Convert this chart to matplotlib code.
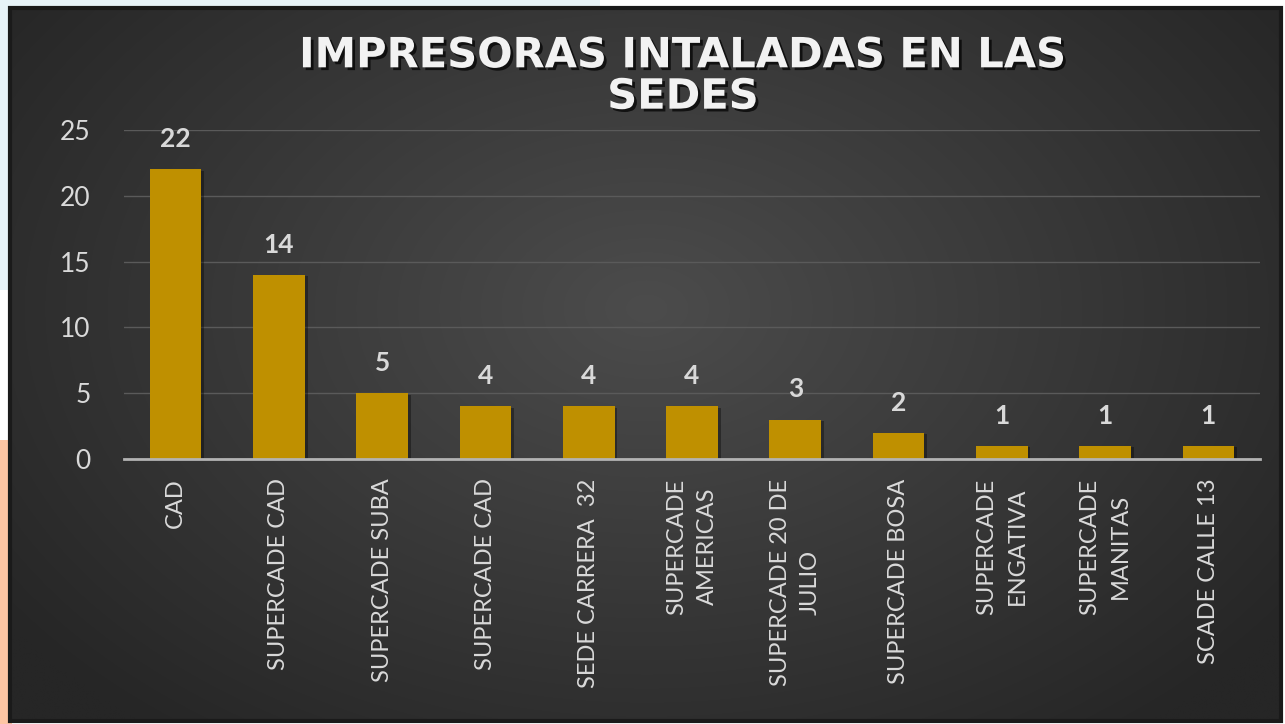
import numpy as np
import matplotlib
matplotlib.use("Agg")
import matplotlib.pyplot as plt
import matplotlib.patheffects as pe
from matplotlib.patches import Rectangle

categories = ["CAD", "SUPERCADE CAD", "SUPERCADE SUBA", "SUPERCADE CAD",
              "SEDE CARRERA  32", "SUPERCADE\nAMERICAS", "SUPERCADE 20 DE\nJULIO",
              "SUPERCADE BOSA", "SUPERCADE\nENGATIVA", "SUPERCADE\nMANITAS",
              "SCADE CALLE 13"]
values = [22, 14, 5, 4, 4, 4, 3, 2, 1, 1, 1]
yticks = [0, 5, 10, 15, 20, 25]
title = "IMPRESORAS INTALADAS EN LAS\nSEDES"

W, H = 1285, 724
fig = plt.figure(figsize=(W / 100, H / 100), dpi=100, facecolor="white")

# background decorations
bg = fig.add_axes([0, 0, 1, 1])
bg.set_xlim(0, W)
bg.set_ylim(H, 0)
bg.axis("off")
bg.add_patch(Rectangle((0, 0), 600, 8, color="#e7f3f8", lw=0))
bg.add_patch(Rectangle((0, 0), 12, 290, color="#e7f3f8", lw=0))
bg.add_patch(Rectangle((0, 440), 12, 284, color="#fdc5a3", lw=0))

# dark radial gradient panel
px0, py0, px1, py1 = 10, 8, 1281, 721
ny, nx = 300, 500
yy, xx = np.mgrid[0:ny, 0:nx]
cx, cy = nx * 0.5, ny * 0.42
r = np.sqrt(((xx - cx) / (nx * 0.62)) ** 2 + ((yy - cy) / (ny * 0.75)) ** 2)
r = np.clip(r, 0, 1)
c_in = np.array([0x4c, 0x4c, 0x4c]) / 255
c_out = np.array([0x26, 0x26, 0x26]) / 255
img = c_in[None, None, :] * (1 - r[..., None]) + c_out[None, None, :] * r[..., None]
bg.imshow(img, extent=(px0, px1, py1, py0), aspect="auto", zorder=1, interpolation="bilinear")
bg.add_patch(Rectangle((px0, py0), px1 - px0, py1 - py0, fill=False,
                       ec="#1a1a1a", lw=3, zorder=2))

# chart
left, right = 124 / W, 1260 / W
bottom, top = 1 - 459 / H, 1 - 130 / H
ax = fig.add_axes([left, bottom, right - left, top - bottom])
ax.set_facecolor("none")
x = np.arange(len(values))
bars = ax.bar(x, values, width=0.5, color="#bf9000", zorder=3)
for b in bars:
    b.set_path_effects([pe.SimplePatchShadow(offset=(2, -1), shadow_rgbFace="black", alpha=0.35), pe.Normal()])
ax.set_xlim(-0.5, len(values) - 0.5)
ax.set_ylim(0, 25)
ax.set_yticks(yticks)
ax.yaxis.grid(True, color="#5a5a5a", lw=1)
ax.set_axisbelow(True)
for s in ["top", "right", "left"]:
    ax.spines[s].set_visible(False)
ax.spines["bottom"].set_color("#b3b3b3")
ax.spines["bottom"].set_linewidth(2)
ax.spines["bottom"].set_zorder(4)
ax.tick_params(axis="both", length=0)
ax.tick_params(axis="y", pad=24, labelcolor="#d9d9d9", labelsize=19)
ax.tick_params(axis="x", pad=14, labelcolor="#d9d9d9")
for lab in ax.get_yticklabels():
    lab.set_family("Lato")
ax.set_xticks(x)
ax.set_xticklabels(categories, rotation=90, va="top", ha="center",
                   multialignment="center", fontsize=17,
                   family="Lato", linespacing=1.55)

for xi, v in zip(x, values):
    ax.annotate(str(v), (xi, v), xytext=(0, 13), textcoords="offset points",
                ha="center", va="bottom", fontsize=19, fontweight="bold",
                color="#d9d9d9", family="Lato")

fig.text(683 / W, 1 - 76 / H, title, ha="center", va="center", fontsize=30,
         fontweight="bold", color="#f2f2f2", family="DejaVu Sans", linespacing=0.98,
         path_effects=[pe.withSimplePatchShadow(offset=(2, -2), shadow_rgbFace="black", alpha=0.7)])

fig.savefig("out.png", dpi=100, facecolor="white")
